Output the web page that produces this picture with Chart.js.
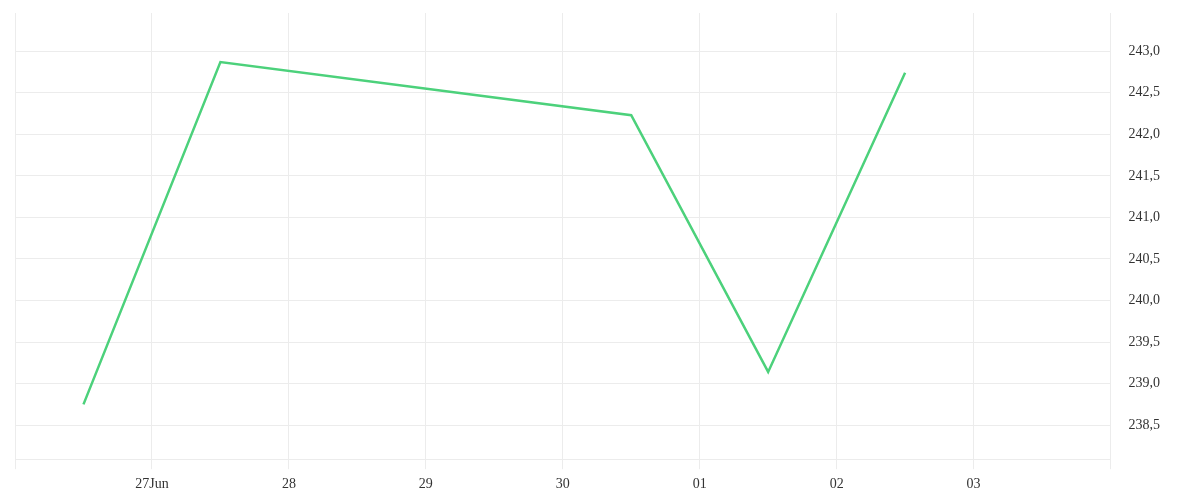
<!DOCTYPE html>
<html>
<head>
<meta charset="utf-8">
<script src="https://cdn.jsdelivr.net/npm/chart.js@4/dist/chart.umd.min.js"></script>
<style>
  html, body { margin: 0; padding: 0; background: #fff; }
  #wrap { width: 1200px; height: 500px; }
</style>
</head>
<body>
<div id="wrap"><canvas id="myChart" width="1200" height="500"></canvas></div>
<script>
// data
var dates = ['2019-06-26T12:00:00Z', '2019-06-27T12:00:00Z', '2019-06-30T12:00:00Z', '2019-07-01T12:00:00Z', '2019-07-02T12:00:00Z'];
var prices = [238.75, 242.87, 242.23, 239.14, 242.74];
var tickLabels = ['', '27Jun', '28', '29', '30', '01', '02', '03', ''];
var axisStart = '2019-06-26T00:00:00Z';
var axisEnd = '2019-07-04T00:00:00Z';

var DAY = 86400000;
var points = [];
for (var i = 0; i < dates.length; i++) {
     points.push({ x: Date.parse(dates[i]), y: prices[i] });
}

var font = { family: "'Liberation Serif', serif", size: 14 };
var gridColor = '#ececec';

new Chart('myChart', {
     type: 'line',
     data: {
          datasets: [{
               data: points,
               borderColor: '#4cd17b',
               borderWidth: 2.5,
               pointRadius: 0,
               tension: 0,
               fill: false
          }]
     },
     options: {
          responsive: false,
          animation: false,
          layout: { padding: { left: 15, top: 13, right: 37, bottom: 0 } },
          plugins: { legend: { display: false }, tooltip: { enabled: false } },
          scales: {
               x: {
                    type: 'linear',
                    min: Date.parse(axisStart),
                    max: Date.parse(axisEnd),
                    grid: { color: gridColor, tickLength: 10, tickColor: gridColor },
                    border: { color: gridColor },
                    ticks: {
                         stepSize: DAY,
                         autoSkip: false,
                         maxRotation: 0,
                         padding: 7,
                         color: '#333',
                         font: font,
                         callback: function (v, idx) { return tickLabels[idx]; }
                    }
               },
               y: {
                    position: 'right',
                    min: 238.09,
                    max: 243.46,
                    // invisible tick marks push the labels away from the axis
                    grid: { color: gridColor, tickLength: 15, tickColor: 'rgba(0,0,0,0)' },
                    border: { color: gridColor },
                    ticks: {
                         stepSize: 0.5,
                         includeBounds: false,
                         padding: 3,
                         color: '#333',
                         font: font,
                         callback: function (v) { return v.toFixed(1).replace('.', ','); }
                    }
               }
          }
     }
});
</script>
</body>
</html>
